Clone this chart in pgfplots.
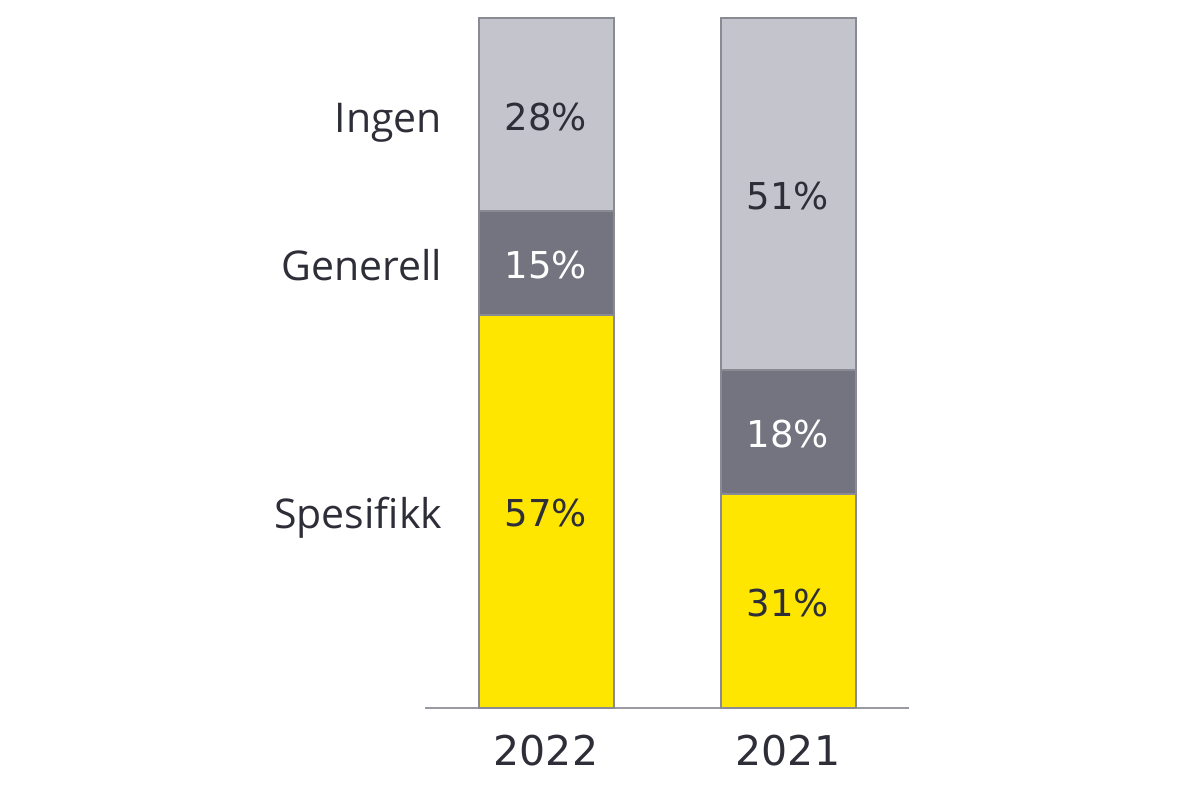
\documentclass[border=0pt]{standalone}
\usepackage{fontspec}
\setmainfont{DejaVu Sans}
\newfontfamily\labfont{Open Sans}
\usepackage{pgfplots}
\pgfplotsset{compat=1.18}
\definecolor{eyyellow}{HTML}{FFE600}
\definecolor{eydark}{HTML}{747480}
\definecolor{eylight}{HTML}{C4C4CD}
\definecolor{eytext}{HTML}{2E2E38}
\definecolor{eyedge}{HTML}{8A8A94}
\definecolor{eyaxis}{HTML}{9A9AA2}
\tikzset{
  pct/.style={font=\fontsize{18.5}{22}\selectfont, anchor=mid, yshift=-5pt},
  cat/.style={font=\labfont\fontsize{20.5}{24}\selectfont, text=eytext, anchor=mid east, yshift=-6pt},
}
\begin{document}
\begin{tikzpicture}
\fill[white] (0,0) rectangle (600pt,400pt);
\begin{axis}[
  at={(212.5pt,46pt)}, anchor=south west,
  scale only axis, width=242pt, height=345pt,
  ybar stacked, bar width=67.5pt,
  xmin=-0.5, xmax=1.5, ymin=0, ymax=100,
  axis y line=none, axis x line*=bottom,
  x axis line style={eyaxis, line width=1pt, -},
  xtick={0,1}, xticklabels={2022,2021},
  major tick length=0pt,
  xticklabel style={font=\fontsize{20.5}{24}\selectfont, text=eytext, yshift=-10pt},
  clip=false,
]
% Spesifikk, Generell, Ingen
\addplot[fill=eyyellow, draw=eyedge, line width=1pt] coordinates {(0,57) (1,31)};
\addplot[fill=eydark, draw=eyedge, line width=1pt] coordinates {(0,15) (1,18)};
\addplot[fill=eylight, draw=eyedge, line width=1pt] coordinates {(0,28) (1,51)};

% segment centres for the value labels
\coordinate (a1) at (axis cs:0,28.5);
\coordinate (a2) at (axis cs:0,64.5);
\coordinate (a3) at (axis cs:0,86);
\coordinate (b1) at (axis cs:1,15.5);
\coordinate (b2) at (axis cs:1,40);
\coordinate (b3) at (axis cs:1,74.5);
\coordinate (c1) at (axis cs:-0.40,28.5);
\coordinate (c2) at (axis cs:-0.40,64.5);
\coordinate (c3) at (axis cs:-0.40,86);
\end{axis}
\node[pct, text=eytext] at (a1) {57\%};
\node[pct, text=white] at (a2) {15\%};
\node[pct, text=eytext] at (a3) {28\%};
\node[pct, text=eytext] at (b1) {31\%};
\node[pct, text=white] at (b2) {18\%};
\node[pct, text=eytext] at (b3) {51\%};
\node[cat] at (c1) {Spesifikk};
\node[cat] at (c2) {Generell};
\node[cat] at (c3) {Ingen};
\end{tikzpicture}
\end{document}
